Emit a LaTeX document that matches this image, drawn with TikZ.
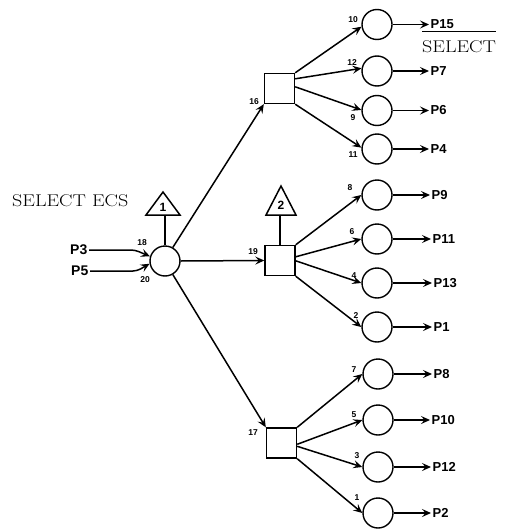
\documentclass[tikz,border=0pt]{standalone}
\usepackage{fontspec}
\setsansfont{Liberation Sans}
\usetikzlibrary{arrows.meta}
\begin{document}
\begin{tikzpicture}[x=1pt,y=-1pt,
  ln/.style={line width=1.5pt},
  arr/.style={ln,-{Stealth[length=9pt,width=8pt,inset=3.5pt]}},
  circ/.style={circle,draw,line width=1.4pt,minimum size=30pt,inner sep=0pt},
  sq/.style={rectangle,draw,line width=1.4pt,minimum size=30pt,inner sep=0pt},
  num/.style={font=\sffamily\bfseries\fontsize{8.5}{9}\selectfont,inner sep=0pt},
  outp/.style={font=\sffamily\bfseries\fontsize{13}{14}\selectfont,anchor=west,inner sep=1.5pt},
  tri/.style={font=\sffamily\bfseries\fontsize{12}{13}\selectfont,inner sep=0pt},
  serif/.style={font=\rmfamily\fontsize{17}{19}\selectfont,inner sep=0pt}
]
\useasboundingbox (0,0) rectangle (507,530);

% main node
\node[circ] (c0) at (165,261) {};
\draw[ln] (146,215) -- (163,192) -- (180,215) -- cycle;
\node[tri] (t1n) at (163,207) {1};
\coordinate (t1b) at (165,215);
\draw[ln] (t1b) -- (c0);
\node[serif,anchor=base west] (selecs) at (12,206.5) {\scalebox{1.18}[1]{SELECT ECS}};

% inputs
\node[outp,anchor=east,font=\sffamily\bfseries\fontsize{14}{15}\selectfont] (p3) at (89,250) {P3};
\node[outp,anchor=east,font=\sffamily\bfseries\fontsize{14}{15}\selectfont] (p5) at (90,271) {P5};
\coordinate (b3) at (135,250);
\coordinate (b5) at (137,271);
\draw[arr,rounded corners=4pt] (p3.east) -- (b3) -- (c0.163);
\draw[arr,rounded corners=4pt] (p5.east) -- (b5) -- (c0.190);
\node[num] (n18) at (142,243) {18};
\node[num] (n20) at (145,280) {20};

% squares
\node[sq] (s1) at (279.5,88.5) {};
\node[sq] (s2) at (280,260.5) {};
\node[sq] (s3) at (281.5,443) {};
\draw[arr] (c0.60) -- (s1.south west);
\draw[arr] (c0.east) -- (s2.west);
\draw[arr] (c0.-60) -- (s3.north west);
\node[num] (n16) at (254,102) {16};
\node[num] (n19) at (253,252) {19};
\node[num] (n17) at (253,433) {17};

% triangle 2
\draw[ln] (266,215) -- (281,186) -- (296,215) -- cycle;
\node[tri] (t2n) at (281,205) {2};
\coordinate (t2b) at (280,215);
\draw[ln] (t2b) -- (s2);

% upper group
\node[circ] (c10) at (377,24.5) {};
\node[circ] (c12) at (377,71) {};
\node[circ] (c9)  at (377,110.5) {};
\node[circ] (c11) at (377,149) {};
\draw[arr] (s1.north east) -- (c10.188);
\draw[arr] ([yshift=-6pt]s1.north east) -- (c12.170);
\draw[arr] ([yshift=-14pt]s1.north east) -- (c9.178);
\draw[arr] (s1.south east) -- (c11.175);
\node[num] (n10) at (353,20) {10};
\node[num] (n12) at (352,63) {12};
\node[num] (n9)  at (353,118) {9};
\node[num] (n11) at (353,155) {11};
\node[outp] (p15) at (429,24.5) {P15};
\node[outp] (p7)  at (429,71) {P7};
\node[outp] (p6)  at (429,110.5) {P6};
\node[outp] (p4)  at (429,149) {P4};
\draw[arr] (c10) -- (p15);
\draw[arr] (c12) -- (p7);
\draw[arr] (c9) -- (p6);
\draw[arr] (c11) -- (p4);
\node[serif,anchor=base west] (sel) at (422,52.5) {\scalebox{1.18}[1]{SELECT}};
\draw[line width=0.8pt] ([yshift=9pt]sel.north west) -- ([yshift=9pt]sel.north east);

% middle group
\node[circ] (c8) at (377,195) {};
\node[circ] (c6) at (377,239) {};
\node[circ] (c4) at (377,283) {};
\node[circ] (c2) at (377,327) {};
\draw[arr] (s2.north east) -- (c8.west);
\draw[arr] ([yshift=-12pt]s2.north east) -- (c6.west);
\draw[arr] ([yshift=-16pt]s2.north east) -- (c4.west);
\draw[arr] (s2.south east) -- (c2.west);
\node[num] (n8) at (350,188) {8};
\node[num] (n6) at (352,232) {6};
\node[num] (n4) at (354,276) {4};
\node[num] (n2) at (356,316) {2};
\node[outp] (p9)  at (430,195) {P9};
\node[outp] (p11) at (431,239) {P11};
\node[outp] (p13) at (432,283) {P13};
\node[outp] (p1)  at (432,327) {P1};
\draw[arr] (c8) -- (p9);
\draw[arr] (c6) -- (p11);
\draw[arr] (c4) -- (p13);
\draw[arr] (c2) -- (p1);

% lower group
\node[circ] (c7) at (378,374) {};
\node[circ] (c5) at (378,420) {};
\node[circ] (c3) at (378,467) {};
\node[circ] (c1) at (378,513) {};
\draw[arr] (s3.north east) -- (c7.west);
\draw[arr] ([yshift=-17pt]s3.north east) -- (c5.west);
\draw[arr] ([yshift=-19pt]s3.north east) -- (c3.west);
\draw[arr] (s3.south east) -- (c1.west);
\node[num] (n7) at (354,370) {7};
\node[num] (n5) at (354,415) {5};
\node[num] (n3) at (357,456) {3};
\node[num] (n1) at (357,498) {1};
\node[outp] (p8)  at (432,374) {P8};
\node[outp] (p10) at (430,420) {P10};
\node[outp] (p12) at (431,467) {P12};
\node[outp] (p2)  at (431,513) {P2};
\draw[arr] (c7) -- (p8);
\draw[arr] (c5) -- (p10);
\draw[arr] (c3) -- (p12);
\draw[arr] (c1) -- (p2);
\end{tikzpicture}
\end{document}
